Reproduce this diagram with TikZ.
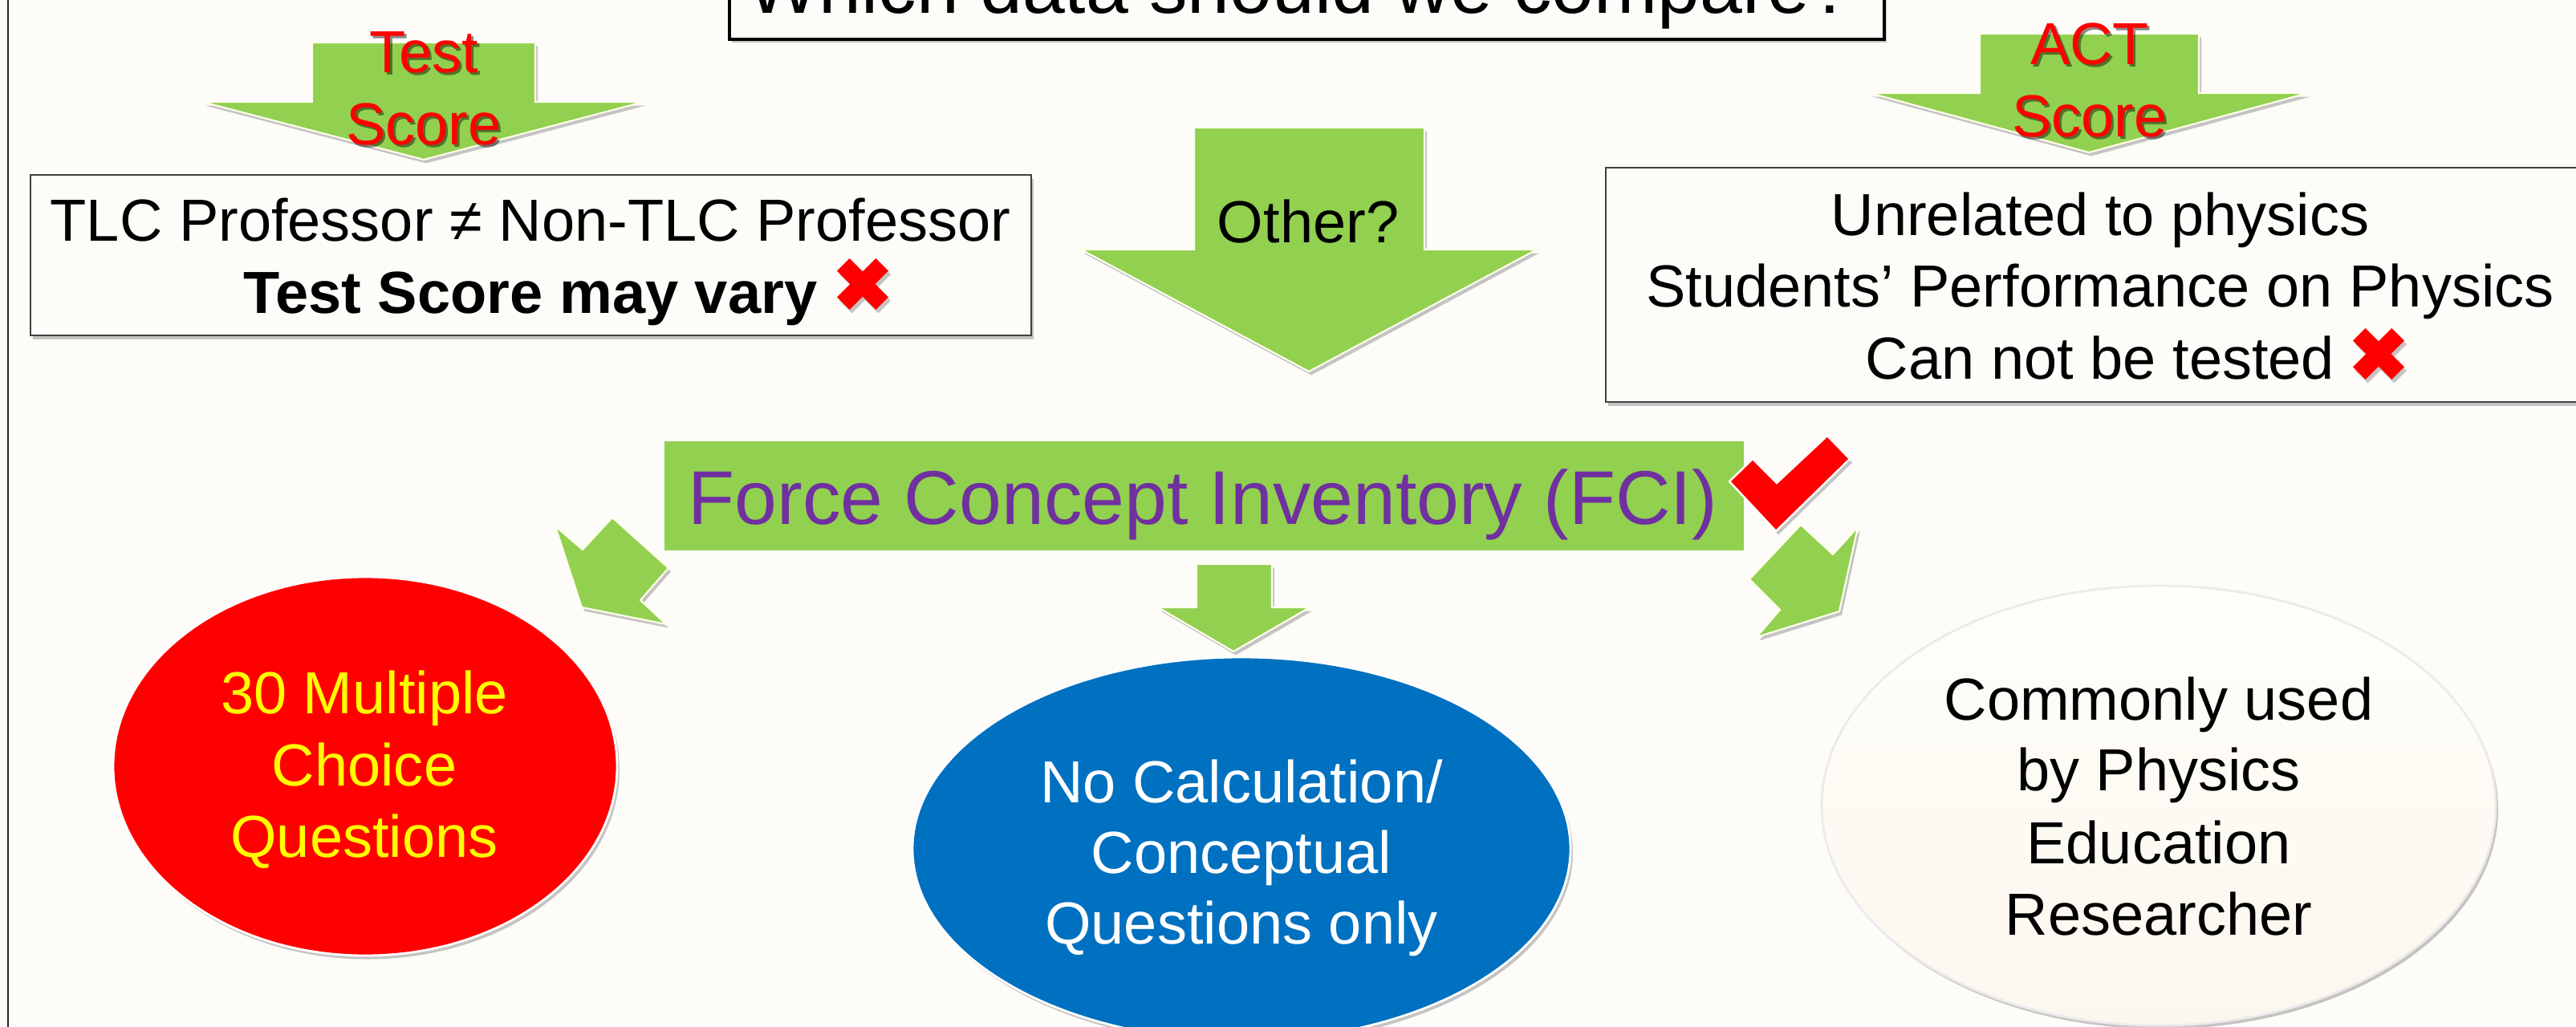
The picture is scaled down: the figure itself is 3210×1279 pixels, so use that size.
\documentclass[tikz,border=0pt]{standalone}
\usepackage{fontspec}
\setmainfont{Liberation Sans}
\usetikzlibrary{shadows}
\definecolor{bg}{RGB}{253,252,249}
\definecolor{grn}{RGB}{146,208,80}
\definecolor{purp}{RGB}{112,48,160}
\definecolor{blu}{RGB}{0,112,192}
\definecolor{creamtop}{RGB}{255,254,250}
\definecolor{creambot}{RGB}{252,247,238}
\definecolor{yel}{RGB}{255,255,0}
\tikzset{
  sz/.style={font=\fontsize{21.05pt}{25.3pt}\selectfont},
  bsz/.style={font=\fontsize{21.05pt}{25.3pt}\selectfont\bfseries},
  big/.style={font=\fontsize{27pt}{32pt}\selectfont},
  txt/.style={sz, anchor=base, inner sep=0pt},
  shad/.style={drop shadow={shadow xshift=0.03cm, shadow yshift=-0.045cm, opacity=0.22, fill=black}},
  garrow/.style={fill=grn, draw=white!92!yellow, line width=0.6pt, shad},
  frame/.style={draw=black!75, line width=0.7pt, fill=bg, shad},
  oval/.style={draw=white, line width=0.8pt, shad},
  redx/.pic={
    \path[fill=red, shad] (-32,-16.4) -- (-16.4,-32) -- (0,-15.6) -- (16.4,-32) -- (32,-16.4) -- (15.6,0)
      -- (32,16.4) -- (16.4,32) -- (0,15.6) -- (-16.4,32) -- (-32,16.4) -- (-15.6,0) -- cycle;
  }
}
\begin{document}
\begin{tikzpicture}[x=0.01cm,y=-0.01cm]
\useasboundingbox (0,0) rectangle (3210,1279);
\clip (0,0) rectangle (3210,1279);
\fill[bg] (0,0) rectangle (3210,1279);
\draw[black!85, line width=0.45pt] (10,-5) -- (10,1290);

% title box
\path[frame, line width=0.9pt, draw=black] (909,-300) rectangle (2348,49);
\node[big, anchor=base, inner sep=0pt] (title) at (1620,17) {Which data should we compare?};

% Test Score arrow
\path[garrow] (389,53) -- (667,53) -- (667,127) -- (802,127) -- (528,199) -- (252,127) -- (389,127) -- cycle;
\node[txt, text=black, opacity=0.45] (testsh) at (531,94) {Test};
\node[txt, text=red] (test) at (528,91) {Test};
\node[txt, text=black, opacity=0.45] (scoresha) at (531,183) {Score};
\node[txt, text=red] (scorea) at (528,180) {Score};

% ACT Score arrow
\path[garrow] (2467,42) -- (2740,42) -- (2740,116) -- (2876,116) -- (2603,190) -- (2330,116) -- (2467,116) -- cycle;
\node[txt, text=black, opacity=0.45] (actsh) at (2607,84) {ACT};
\node[txt, text=red] (act) at (2604,81) {ACT};
\node[txt, text=black, opacity=0.45] (scoresb) at (2607,173) {Score};
\node[txt, text=red] (scoreb) at (2604,170) {Score};

% left box
\path[frame] (38,218) rectangle (1285,418);
\node[txt] (l1) at (661,300) {TLC Professor ≠ Non-TLC Professor};
\node[bsz, anchor=base, inner sep=0pt] (l2) at (661,390) {Test Score may vary};
\pic at (1075,354) {redx};

% right box
\path[frame] (2001,209) rectangle (3240,501);
\node[txt] (r1) at (2617,293) {Unrelated to physics};
\node[txt] (r2) at (2617,382) {Students’ Performance on Physics};
\node[txt] (r3) at (2617,472) {Can not be tested};
\pic at (2964,441) {redx};

% Other? arrow
\path[garrow] (1488,159) -- (1775,159) -- (1775,311) -- (1915,311) -- (1631,463) -- (1347,311) -- (1488,311) -- cycle;
\node[txt] (other) at (1630,302) {Other?};

% FCI box
\fill[grn] (828,550) rectangle (2173,686);
\node[big, anchor=base, inner sep=0pt, text=purp] (fci) at (1499,653) {Force Concept Inventory (FCI)};

% check mark
\path[fill=red, draw=white, line width=0.7pt, shad] (2155,600) -- (2184,572) -- (2214,602) -- (2277,543) -- (2305,572) -- (2213,662) -- cycle;

% small arrows
\path[garrow] (763,645) -- (833,708) -- (798,748) -- (830,778) -- (725,757) -- (692,656) -- (726,685) -- cycle;
\path[garrow] (1491,703) -- (1585,703) -- (1585,757) -- (1632,757) -- (1537,812) -- (1443,757) -- (1491,757) -- cycle;
\path[garrow] (2244,654) -- (2284,691) -- (2315,657) -- (2292,762) -- (2189,794) -- (2218,760) -- (2180,722) -- cycle;

% red oval
\path[oval, fill=red] (455,955) ellipse [x radius=314, y radius=236];
\node[txt, text=yel] (m1) at (454,889) {30 Multiple};
\node[txt, text=yel] (m2) at (454,979) {Choice};
\node[txt, text=yel] (m3) at (454,1068) {Questions};

% blue oval
\path[oval, fill=blu] (1547,1058) ellipse [x radius=410, y radius=239];
\node[txt, text=white] (b1) at (1547,1000) {No Calculation/};
\node[txt, text=white] (b2) at (1547,1088) {Conceptual};
\node[txt, text=white] (b3) at (1547,1176) {Questions only};

% cream oval
\path[oval, draw=black!8, top color=creamtop, bottom color=creambot] (2690,1004) ellipse [x radius=420, y radius=274];
\node[txt] (c1) at (2690,897) {Commonly used};
\node[txt] (c2) at (2690,985) {by Physics};
\node[txt] (c3) at (2690,1076) {Education};
\node[txt] (c4) at (2690,1165) {Researcher};
\end{tikzpicture}
\end{document}
